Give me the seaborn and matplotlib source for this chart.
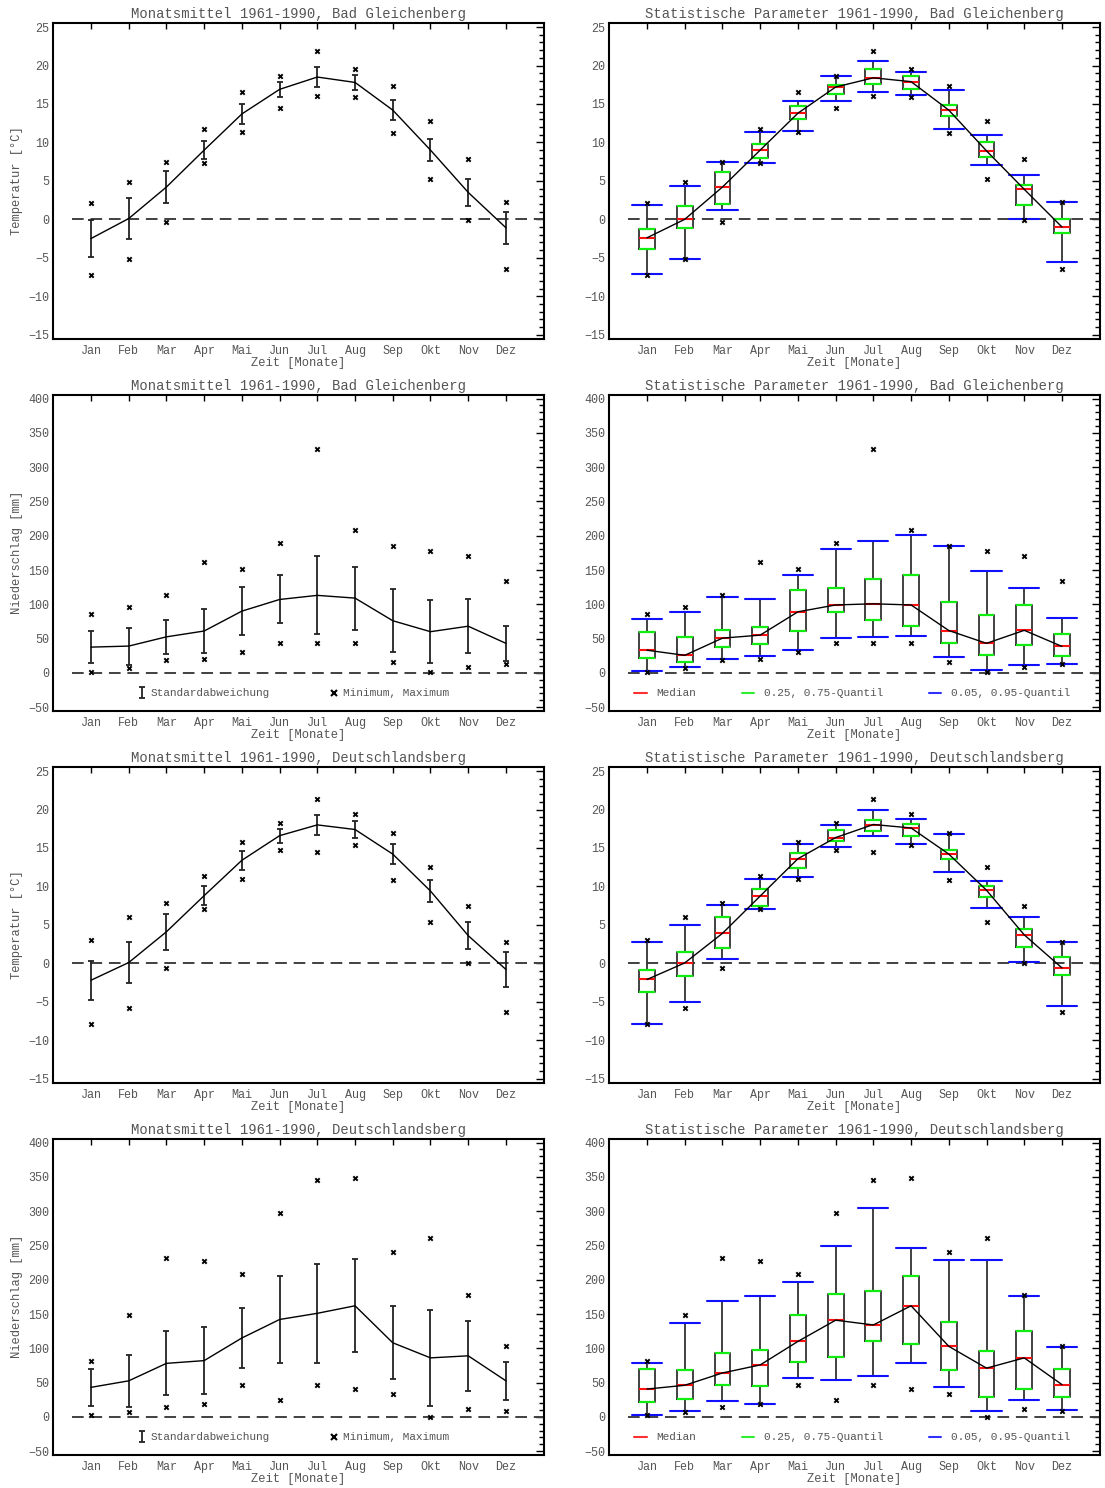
import numpy as np
import pandas as pd
import matplotlib
matplotlib.use('Agg')
import matplotlib.pyplot as plt
import seaborn as sns
from matplotlib.lines import Line2D
from matplotlib.ticker import MultipleLocator

# ---------------- data ----------------
months = ['Jan', 'Feb', 'Mar', 'Apr', 'Mai', 'Jun', 'Jul', 'Aug', 'Sep', 'Okt', 'Nov', 'Dez']

# Bad Gleichenberg, temperature
bg_t_mean = [-2.5, 0.1, 4.2, 9.0, 13.7, 16.9, 18.5, 17.8, 14.2, 9.0, 3.5, -1.1]
bg_t_sd = [2.45, 2.65, 2.1, 1.2, 1.3, 0.95, 1.25, 0.95, 1.35, 1.45, 1.8, 2.1]
bg_t_max = [2.1, 4.9, 7.4, 11.7, 16.5, 18.7, 21.9, 19.6, 17.3, 12.8, 7.8, 2.3]
bg_t_min = [-7.3, -5.2, -0.4, 7.3, 11.3, 14.5, 16.1, 15.9, 11.2, 5.3, -0.1, -6.4]
bg_t_q05 = [-7.1, -5.2, 1.2, 7.3, 11.5, 15.4, 16.6, 16.2, 11.8, 7.1, 0.0, -5.5]
bg_t_q25 = [-3.9, -1.1, 2.0, 8.0, 13.0, 16.3, 17.6, 16.9, 13.4, 8.1, 1.9, -1.8]
bg_t_med = [-2.4, 0.0, 4.2, 9.0, 13.8, 17.2, 18.4, 17.9, 14.2, 8.9, 3.9, -1.0]
bg_t_q75 = [-1.3, 1.7, 6.2, 9.8, 14.8, 17.5, 19.5, 18.6, 14.9, 10.0, 4.5, 0.1]
bg_t_q95 = [1.8, 4.3, 7.4, 11.3, 15.4, 18.6, 20.6, 19.1, 16.8, 10.9, 5.8, 2.2]

# Bad Gleichenberg, precipitation
bg_p_mean = [37.5, 39, 52.5, 61, 90, 107, 113, 109, 76, 60, 68, 43]
bg_p_sd = [23.5, 27, 25, 32, 35, 35, 57, 46, 46, 46, 39.5, 26]
bg_p_max = [86, 96, 113, 162, 152, 190, 326, 209, 185, 178, 171, 134]
bg_p_min = [1, 7, 19, 20, 31, 44, 43, 44, 16, 1, 9, 13]
bg_p_q05 = [2, 8.7, 20.7, 25, 33, 50.6, 51.6, 53, 23.6, 4.3, 11.6, 13]
bg_p_q25 = [21, 16.4, 37.6, 42, 61, 89, 76.6, 68.4, 43, 26, 41, 24.6]
bg_p_med = [33, 25.5, 50.6, 55, 89, 99, 100.7, 99, 61.7, 43, 62, 38.5]
bg_p_q75 = [59, 52.5, 63, 67.5, 121, 124, 137, 143, 104, 85, 99, 57]
bg_p_q95 = [79, 89, 111, 107, 143, 181, 193, 201, 184.6, 149, 124, 80]

# Deutschlandsberg, temperature
dl_t_mean = [-2.2, 0.1, 4.1, 8.8, 13.4, 16.6, 18.0, 17.4, 14.2, 9.4, 3.6, -0.8]
dl_t_sd = [2.55, 2.7, 2.35, 1.2, 1.25, 0.9, 1.3, 1.05, 1.35, 1.4, 1.75, 2.25]
dl_t_max = [3.0, 6.0, 7.9, 11.4, 15.8, 18.3, 21.4, 19.4, 16.9, 12.5, 7.4, 2.75]
dl_t_min = [-7.9, -5.8, -0.6, 7.0, 10.9, 14.7, 14.5, 15.4, 10.8, 5.4, 0.1, -6.3]
dl_t_q05 = [-7.85, -5.0, 0.6, 7.1, 11.2, 15.1, 16.5, 15.5, 11.9, 7.2, 0.2, -5.6]
dl_t_q25 = [-3.7, -1.7, 2.0, 7.5, 12.35, 15.9, 17.25, 16.5, 13.55, 8.6, 2.1, -1.5]
dl_t_med = [-2.1, 0.05, 3.9, 8.75, 13.6, 16.35, 18.05, 17.6, 14.2, 9.5, 3.7, -0.6]
dl_t_q75 = [-0.9, 1.5, 6.0, 9.7, 14.35, 17.4, 18.7, 18.1, 14.8, 10.0, 4.4, 0.8]
dl_t_q95 = [2.8, 5.0, 7.6, 10.9, 15.5, 18.0, 19.9, 18.8, 16.85, 10.65, 6.0, 2.75]

# Deutschlandsberg, precipitation
dl_p_mean = [43, 52.5, 78, 82, 115, 142, 151, 162, 108, 86, 89, 52.5]
dl_p_sd = [26.5, 38, 46.5, 49, 44, 63, 72, 68, 53, 70, 51.5, 27.5]
dl_p_max = [81, 148, 231, 228, 208, 298, 345, 349, 241, 261, 178, 104]
dl_p_min = [2, 7, 14, 18, 46, 25, 47, 41, 34, 0, 11, 9]
dl_p_q05 = [2, 8, 22.7, 18.8, 56, 53, 60, 78, 43.4, 8, 24.6, 10]
dl_p_q25 = [21, 26.5, 46, 44.4, 79.6, 88, 111, 106, 69, 29, 40.5, 29.4]
dl_p_med = [40.5, 46, 64, 75.7, 110, 141, 134, 162, 102.8, 71, 86, 47]
dl_p_q75 = [70.4, 69, 93, 97.5, 149, 179.5, 184, 205, 139, 96.5, 125, 70]
dl_p_q95 = [78, 137, 169, 176.6, 196, 249, 305, 246.6, 229, 229, 176, 102]

stations = ['Bad Gleichenberg', 'Deutschlandsberg']

# ---------------- style ----------------
sns.set_theme(style='white')
plt.rcParams['font.family'] = ['Liberation Mono', 'DejaVu Sans Mono']
TEXT = '#555555'
EDGE = '#333333'

fig = plt.figure(figsize=(11.05, 14.88), dpi=100)
x = np.arange(1, 13)

left_x0, right_x0, ax_w = 0.0482, 0.5514, 0.4438
row_bottoms = [0.7725, 0.5225, 0.2725, 0.0225]
ax_h = 0.2119


def style_axes(ax, kind, ylabel):
    ax.set_xlim(0, 13)
    if kind == 'T':
        ax.set_ylim(-15.5, 25.5)
        ax.yaxis.set_major_locator(MultipleLocator(5))
        ax.yaxis.set_minor_locator(MultipleLocator(1))
        lab = 'Temperatur [°C]'
    else:
        ax.set_ylim(-55, 405)
        ax.yaxis.set_major_locator(MultipleLocator(50))
        ax.yaxis.set_minor_locator(MultipleLocator(10))
        lab = 'Niederschlag [mm]'
    ax.set_xticks(x)
    ax.set_xticklabels(months)
    ax.tick_params(axis='both', which='both', direction='in', top=True, right=True,
                   color='black', labelcolor=TEXT, labelsize=8.5)
    ax.tick_params(axis='y', which='major', length=6, width=1, pad=3)
    ax.tick_params(axis='y', which='minor', length=3.5, width=1)
    ax.tick_params(axis='x', which='major', length=4.5, width=1, pad=5)
    ax.tick_params(axis='x', which='minor', length=0)
    for s in ax.spines.values():
        s.set_color('black')
        s.set_linewidth(1.5)
    ax.set_xlabel('Zeit [Monate]', color=TEXT, fontsize=8.7, labelpad=0)
    if ylabel:
        ax.set_ylabel(lab, color=TEXT, fontsize=8.7, labelpad=4)
    ax.axhline(0, xmin=0.5 / 13, xmax=1, color='#404040', lw=1.4,
               dashes=(6, 3.5), zorder=1)
    ax.grid(False)


def left_panel(ax, kind, station, mean, sd, mn, mx):
    style_axes(ax, kind, True)
    ax.set_title(f'Monatsmittel 1961-1990, {station}', color=TEXT, fontsize=10, pad=3.5)
    eb = ax.errorbar(x, mean, yerr=sd, fmt='none', ecolor='#222222', elinewidth=1.3,
                     capsize=2.4, capthick=1.3, zorder=3)
    sns.lineplot(x=x, y=mean, ax=ax, color='black', linewidth=1.0, zorder=4)
    sns.scatterplot(x=np.r_[x, x], y=np.r_[mn, mx], ax=ax, marker='x', s=10,
                    color='black', linewidth=1.4, zorder=5)
    if kind == 'P':
        hx = Line2D([], [], ls='none', marker='x', color='black', ms=5, mew=1.5)
        leg = ax.legend([eb, hx], ['Standardabweichung', 'Minimum, Maximum'],
                        loc='center left', bbox_to_anchor=(0.17, 0.054), ncol=2,
                        frameon=False, fontsize=8, handlelength=1.0, handletextpad=0.3,
                        columnspacing=5.2, borderpad=0, borderaxespad=0)
        for t in leg.get_texts():
            t.set_color(TEXT)


def right_panel(ax, kind, station, mn, mx, q05, q25, med, q75, q95):
    style_axes(ax, kind, False)
    ax.set_title(f'Statistische Parameter 1961-1990, {station}', color=TEXT, fontsize=10, pad=3.5)
    stats = [dict(med=m, q1=a, q3=b, whislo=lo, whishi=hi, fliers=[])
             for m, a, b, lo, hi in zip(med, q25, q75, q05, q95)]
    bw = 0.42
    ax.bxp(stats, positions=x, widths=bw, capwidths=0.8, showfliers=False,
           boxprops=dict(color=EDGE, linewidth=1.3),
           whiskerprops=dict(color=EDGE, linewidth=1.3),
           capprops=dict(color='#1010ff', linewidth=1.5),
           medianprops=dict(color='#ff1010', linewidth=1.5),
           manage_ticks=False, zorder=2)
    ax.hlines(q25, x - bw / 2, x + bw / 2, color='#10ee10', lw=1.6, zorder=3)
    ax.hlines(q75, x - bw / 2, x + bw / 2, color='#10ee10', lw=1.6, zorder=3)
    sns.lineplot(x=x, y=med, ax=ax, color='black', linewidth=1.0, zorder=4)
    sns.scatterplot(x=np.r_[x, x], y=np.r_[mn, mx], ax=ax, marker='x', s=10,
                    color='black', linewidth=1.4, zorder=5)
    if kind == 'P':
        handles = [Line2D([], [], color='#ff3030', lw=1.5),
                   Line2D([], [], color='#30ee30', lw=1.5),
                   Line2D([], [], color='#3030ff', lw=1.5)]
        leg = ax.legend(handles, ['Median', '0.25, 0.75-Quantil', '0.05, 0.95-Quantil'],
                        loc='center left', bbox_to_anchor=(0.051, 0.054), ncol=3,
                        frameon=False, fontsize=8, handlelength=1.1, handletextpad=0.9,
                        columnspacing=4.1, borderpad=0, borderaxespad=0)
        for t in leg.get_texts():
            t.set_color(TEXT)


data = [
    ('T', stations[0], bg_t_mean, bg_t_sd, bg_t_min, bg_t_max, bg_t_q05, bg_t_q25, bg_t_med, bg_t_q75, bg_t_q95),
    ('P', stations[0], bg_p_mean, bg_p_sd, bg_p_min, bg_p_max, bg_p_q05, bg_p_q25, bg_p_med, bg_p_q75, bg_p_q95),
    ('T', stations[1], dl_t_mean, dl_t_sd, dl_t_min, dl_t_max, dl_t_q05, dl_t_q25, dl_t_med, dl_t_q75, dl_t_q95),
    ('P', stations[1], dl_p_mean, dl_p_sd, dl_p_min, dl_p_max, dl_p_q05, dl_p_q25, dl_p_med, dl_p_q75, dl_p_q95),
]

for row, (kind, st, mean, sd, mn, mx, q05, q25, med, q75, q95) in enumerate(data):
    axl = fig.add_axes([left_x0, row_bottoms[row], ax_w, ax_h])
    left_panel(axl, kind, st, mean, sd, mn, mx)
    axr = fig.add_axes([right_x0, row_bottoms[row], ax_w, ax_h])
    right_panel(axr, kind, st, mn, mx, q05, q25, med, q75, q95)

fig.savefig('out.png', dpi=100, facecolor='white')
